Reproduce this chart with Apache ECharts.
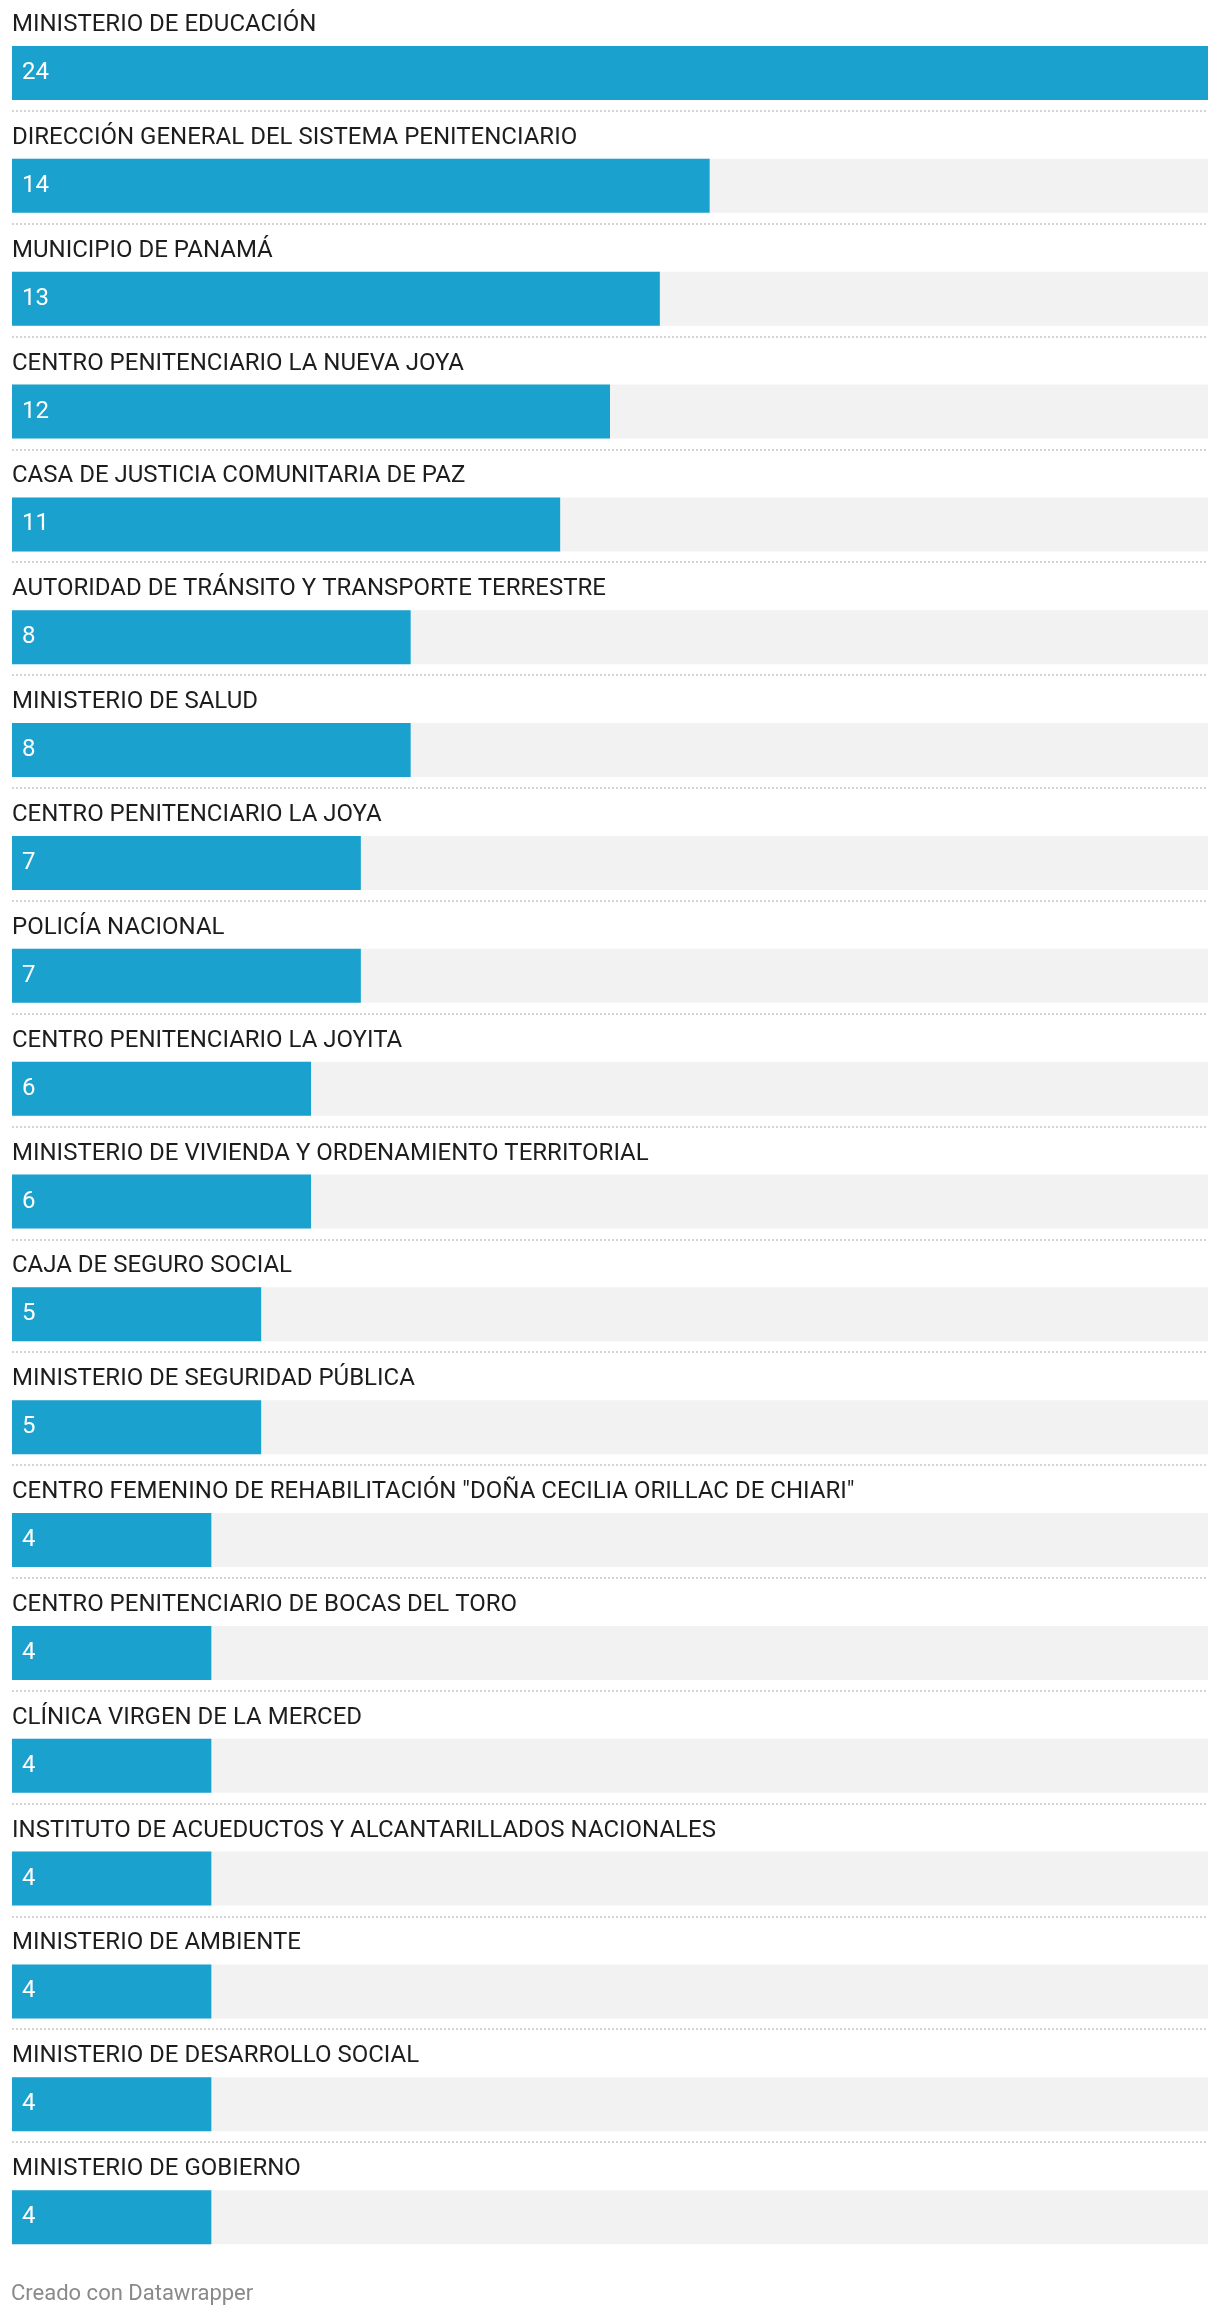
<!DOCTYPE html>
<html>
<head>
<meta charset="utf-8">
<script src="https://cdn.jsdelivr.net/npm/echarts@6/dist/echarts.min.js"></script>
<style>
html,body{margin:0;padding:0;background:#fff;}
#chart{width:1220px;height:2320px;}
</style>
</head>
<body>
<div id="chart"></div>
<script>
var categories = [
  "MINISTERIO DE EDUCACIÓN",
  "DIRECCIÓN GENERAL DEL SISTEMA PENITENCIARIO",
  "MUNICIPIO DE PANAMÁ",
  "CENTRO PENITENCIARIO LA NUEVA JOYA",
  "CASA DE JUSTICIA COMUNITARIA DE PAZ",
  "AUTORIDAD DE TRÁNSITO Y TRANSPORTE TERRESTRE",
  "MINISTERIO DE SALUD",
  "CENTRO PENITENCIARIO LA JOYA",
  "POLICÍA NACIONAL",
  "CENTRO PENITENCIARIO LA JOYITA",
  "MINISTERIO DE VIVIENDA Y ORDENAMIENTO TERRITORIAL",
  "CAJA DE SEGURO SOCIAL",
  "MINISTERIO DE SEGURIDAD PÚBLICA",
  "CENTRO FEMENINO DE REHABILITACIÓN \"DOÑA CECILIA ORILLAC DE CHIARI\"",
  "CENTRO PENITENCIARIO DE BOCAS DEL TORO",
  "CLÍNICA VIRGEN DE LA MERCED",
  "INSTITUTO DE ACUEDUCTOS Y ALCANTARILLADOS NACIONALES",
  "MINISTERIO DE AMBIENTE",
  "MINISTERIO DE DESARROLLO SOCIAL",
  "MINISTERIO DE GOBIERNO"
];
var values = [24, 14, 13, 12, 11, 8, 8, 7, 7, 6, 6, 5, 5, 4, 4, 4, 4, 4, 4, 4];
var axisMax = 24;
var footerText = "Creado con Datawrapper";

var rows = categories.map(function (c, i) { return [0, i]; });

var chart = echarts.init(document.getElementById('chart'), null, {renderer: 'canvas'});
var FONT = 'Roboto, "Noto Sans", sans-serif';
var pitch = 112.85;
var option = {
  animation: false,
  backgroundColor: '#ffffff',
  grid: {left: 12, right: 12, top: 73 - pitch / 2, height: pitch * categories.length, containLabel: false},
  xAxis: {type: 'value', min: 0, max: axisMax, show: false},
  yAxis: {
    type: 'category',
    inverse: true,
    data: categories,
    axisLine: {show: false},
    axisTick: {show: false},
    splitLine: {show: false},
    axisLabel: {show: false}
  },
  series: [
    {
      type: 'bar',
      data: values,
      barWidth: 54,
      itemStyle: {color: '#1aa1cd'},
      showBackground: true,
      backgroundStyle: {color: '#f2f2f2'},
      label: {
        show: true,
        position: 'insideLeft',
        distance: 10,
        color: '#ffffff',
        fontSize: 24,
        fontFamily: FONT
      },
      z: 2
    },
    {
      type: 'custom',
      data: rows,
      silent: true,
      z: 1,
      renderItem: function (params, api) {
        var row = api.value(1);
        var p0 = api.coord([0, row]);
        var p1 = api.coord([axisMax, row]);
        var children = [
          {
            type: 'text',
            x: p0[0],
            y: p0[1] - 48,
            style: {
              text: categories[row],
              fill: '#1d1d1d',
              fontSize: 24,
              fontFamily: FONT,
              align: 'left',
              verticalAlign: 'middle'
            }
          }
        ];
        if (row < categories.length - 1) {
          var y = Math.round(p0[1] + 38);
          children.push({
            type: 'line',
            shape: {x1: p0[0], y1: y, x2: p1[0], y2: y},
            style: {stroke: '#d4d4d4', lineWidth: 2, lineDash: [2, 2]}
          });
        }
        return {type: 'group', children: children};
      }
    }
  ],
  graphic: [
    {
      type: 'text',
      left: 11,
      top: 2283,
      style: {text: footerText, fill: '#8a8a8a', fontSize: 22, fontFamily: FONT}
    }
  ]
};
chart.setOption(option);
</script>
</body>
</html>
